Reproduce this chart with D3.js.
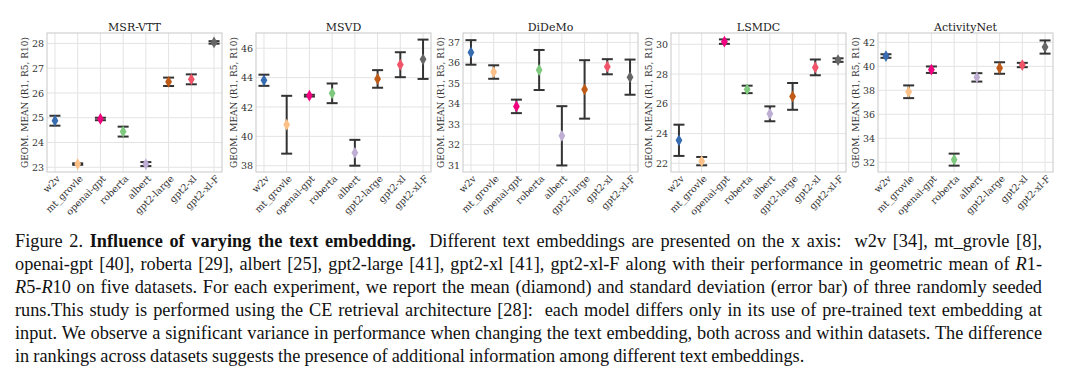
<!DOCTYPE html>
<html>
<head>
<meta charset="utf-8">
<script src="https://cdn.jsdelivr.net/npm/d3@7"></script>
<style>
  html, body { margin: 0; padding: 0; background: #fff; }
  body { width: 1080px; height: 380px; position: relative; overflow: hidden; }
  svg { position: absolute; left: 0; top: 0; }
  #caption { position: absolute; left: 15px; top: 230px; width: 1027px;
    font-family: "Liberation Serif", "Times New Roman", serif; font-size: 18.3px;
    word-spacing: -0.5px; line-height: 22.9px; color: #111; }
  #caption .ln { text-align: justify; text-align-last: justify; white-space: nowrap; }
  #caption .ln.last { text-align: left; text-align-last: left; }
</style>
</head>
<body>
<svg id="chart" width="1080" height="232"></svg>
<div id="caption"></div>
<script>
// ---------------- data ----------------
const categories = ["w2v", "mt_grovle", "openai-gpt", "roberta", "albert", "gpt2-large", "gpt2-xl", "gpt2-xl-F"];
const datasets = ["MSR-VTT", "MSVD", "DiDeMo", "LSMDC", "ActivityNet"];
const colors = ["#386cb0", "#fdc086", "#f0027f", "#7fc97f", "#beaed4", "#bf5b17", "#f15468", "#666666"];

const msrvttMean = [24.88, 23.13, 24.95, 24.44, 23.13, 26.45, 26.55, 28.04];
const msrvttStd  = [0.20, 0.03, 0.05, 0.20, 0.08, 0.17, 0.20, 0.05];
const msvdMean   = [43.82, 40.79, 42.77, 42.93, 38.88, 43.91, 44.88, 45.25];
const msvdStd    = [0.38, 1.97, 0.06, 0.67, 0.88, 0.60, 0.85, 1.34];
const didemoMean = [36.51, 35.55, 33.87, 35.65, 32.43, 34.70, 35.81, 35.30];
const didemoStd  = [0.60, 0.33, 0.33, 0.98, 1.45, 1.43, 0.37, 0.86];
const lsmdcMean  = [23.55, 22.15, 30.18, 26.97, 25.33, 26.50, 28.45, 28.94];
const lsmdcStd   = [1.05, 0.28, 0.15, 0.25, 0.50, 0.90, 0.53, 0.12];
const anetMean   = [40.86, 37.88, 39.72, 32.22, 39.08, 39.86, 40.11, 41.61];
const anetStd    = [0.15, 0.53, 0.27, 0.50, 0.35, 0.48, 0.18, 0.55];

const yLimits = [[22.81, 28.42], [37.57, 47.04], [30.66, 37.46], [21.42, 30.76], [31.19, 42.78]];
const yTicks = [[23, 24, 25, 26, 27, 28], [38, 40, 42, 44, 46], [31, 32, 33, 34, 35, 36, 37],
                [22, 24, 26, 28, 30], [32, 34, 36, 38, 40, 42]];
const yLabel = "GEOM. MEAN (R1, R5, R10)";

const means = [msrvttMean, msvdMean, didemoMean, lsmdcMean, anetMean];
const stds = [msrvttStd, msvdStd, didemoStd, lsmdcStd, anetStd];

// ---------------- layout ----------------
const panelLefts = [47, 256, 463, 671, 878];
const pw = 175, pTop = 33, pBottom = 172;
const serif = "'DejaVu Serif', serif";

const svg = d3.select("#chart");

datasets.forEach((name, i) => {
  const g = svg.append("g").attr("transform", `translate(${panelLefts[i]},0)`);
  const x = d3.scalePoint().domain(categories).range([0, pw]).padding(0.35);
  const y = d3.scaleLinear().domain(yLimits[i]).range([pBottom, pTop]);

  // grid
  g.append("g").selectAll("line").data(categories).join("line")
    .attr("x1", d => x(d)).attr("x2", d => x(d)).attr("y1", pTop).attr("y2", pBottom)
    .attr("stroke", "#e3e3e3").attr("stroke-width", 1);
  g.append("g").selectAll("line").data(yTicks[i]).join("line")
    .attr("x1", 0).attr("x2", pw).attr("y1", d => y(d)).attr("y2", d => y(d))
    .attr("stroke", "#e3e3e3").attr("stroke-width", 1);

  // frame
  g.append("rect").attr("x", 0).attr("y", pTop).attr("width", pw).attr("height", pBottom - pTop)
    .attr("fill", "none").attr("stroke", "#c8c8c8").attr("stroke-width", 1);

  // y axis
  const yAxis = d3.axisLeft(y).tickValues(yTicks[i]).tickSize(0).tickPadding(3).tickFormat(d3.format("d"));
  const ya = g.append("g").call(yAxis);
  ya.select(".domain").remove();
  ya.selectAll("text").attr("font-family", serif).attr("font-size", 9.5).attr("fill", "#333");

  // x axis
  const xAxis = d3.axisBottom(x).tickSize(0).tickPadding(0);
  const xa = g.append("g").attr("transform", `translate(0,${pBottom})`).call(xAxis);
  xa.select(".domain").remove();
  xa.selectAll("text")
    .attr("font-family", serif).attr("font-size", 9.5).attr("fill", "#333")
    .attr("text-anchor", "end")
    .attr("transform", "translate(3,5) rotate(-45)")
    .attr("dy", "0.35em").attr("y", 0);

  // y label
  g.append("text")
    .attr("transform", `translate(-19,${(pTop + pBottom) / 2}) rotate(-90)`)
    .attr("text-anchor", "middle")
    .attr("font-family", serif).attr("font-size", 9).attr("fill", "#333")
    .text(yLabel);

  // title
  g.append("text").attr("x", pw / 2).attr("y", 31).attr("text-anchor", "middle")
    .attr("font-family", serif).attr("font-size", 11).attr("fill", "#222")
    .text(name);

  const pts = categories.map((c, k) => ({ c, m: means[i][k], s: stds[i][k], col: colors[k] }));

  // error bars
  const eb = g.append("g").selectAll("g").data(pts).join("g");
  eb.append("line")
    .attr("x1", d => x(d.c)).attr("x2", d => x(d.c))
    .attr("y1", d => y(d.m - d.s)).attr("y2", d => y(d.m + d.s))
    .attr("stroke", "#333").attr("stroke-width", 2);
  eb.append("line")
    .attr("x1", d => x(d.c) - 5.5).attr("x2", d => x(d.c) + 5.5)
    .attr("y1", d => y(d.m + d.s)).attr("y2", d => y(d.m + d.s))
    .attr("stroke", "#333").attr("stroke-width", 2);
  eb.append("line")
    .attr("x1", d => x(d.c) - 5.5).attr("x2", d => x(d.c) + 5.5)
    .attr("y1", d => y(d.m - d.s)).attr("y2", d => y(d.m - d.s))
    .attr("stroke", "#333").attr("stroke-width", 2);

  // diamonds
  g.append("g").selectAll("path").data(pts).join("path")
    .attr("d", d3.symbol(d3.symbolDiamond, 40))
    .attr("transform", d => `translate(${x(d.c)},${y(d.m)})`)
    .attr("fill", d => d.col);
});

// ---------------- caption ----------------
const captionLines = [
  'Figure 2. <b>Influence of varying the text embedding.</b>&nbsp; Different text embeddings are presented on the x axis: &nbsp;w2v [34], mt_grovle [8],',
  'openai-gpt [40], roberta [29], albert [25], gpt2-large [41], gpt2-xl [41], gpt2-xl-F along with their performance in geometric mean of <i>R</i>1-',
  '<i>R</i>5-<i>R</i>10 on five datasets. For each experiment, we report the mean (diamond) and standard deviation (error bar) of three randomly seeded',
  'runs.This study is performed using the CE retrieval architecture [28]: &nbsp;each model differs only in its use of pre-trained text embedding at',
  'input. We observe a significant variance in performance when changing the text embedding, both across and within datasets. The difference',
  'in rankings across datasets suggests the presence of additional information among different text embeddings.'
];
d3.select("#caption").selectAll("div").data(captionLines).join("div")
  .attr("class", (d, i) => i === captionLines.length - 1 ? "ln last" : "ln")
  .html(d => d);
</script>
</body>
</html>
